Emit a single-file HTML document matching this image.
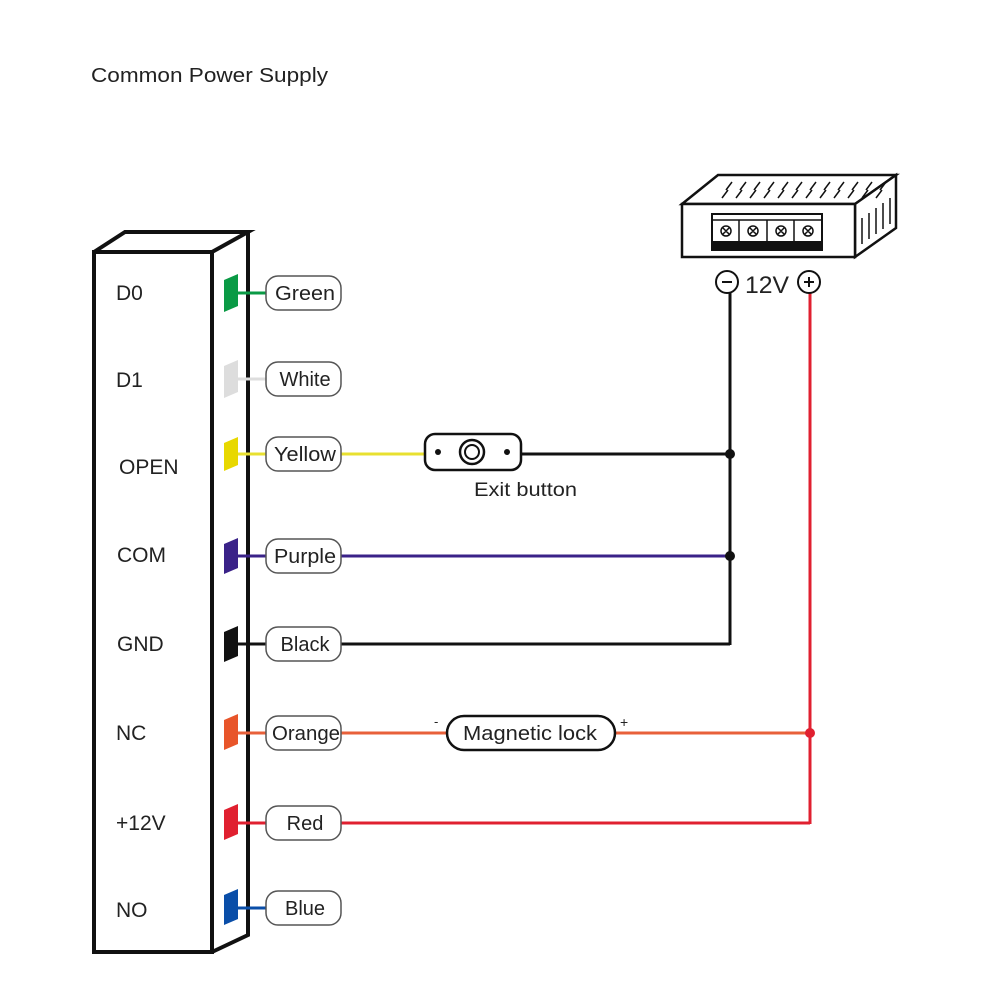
<!DOCTYPE html>
<html><head><meta charset="utf-8"><style>html,body{margin:0;padding:0;background:#fff}svg{display:block}text{font-family:"Liberation Sans",sans-serif;fill:#222}</style></head><body>
<svg width="1000" height="1000" viewBox="0 0 1000 1000" xmlns="http://www.w3.org/2000/svg">
<text x="91" y="82" font-size="20" textLength="237" lengthAdjust="spacingAndGlyphs">Common Power Supply</text>
<g stroke="#111" stroke-width="4" fill="none" stroke-linejoin="miter">
<path d="M94 252 L94 952 L212 952 L212 252 Z"/>
<path d="M94 252 L125 232 L248 232 L212 252"/>
<path d="M248 232 L248 935 L212 952"/>
</g>
<g font-size="21">
<text x="116" y="300">D0</text>
<text x="116" y="387">D1</text>
<text x="119" y="474">OPEN</text>
<text x="117" y="562">COM</text>
<text x="117" y="651">GND</text>
<text x="116" y="740">NC</text>
<text x="116" y="830">+12V</text>
<text x="116" y="917">NO</text>
</g>
<g>
<path d="M224 280 L238 274 L238 306 L224 312Z" fill="#0a9a45"/>
<path d="M224 366 L238 360 L238 392 L224 398Z" fill="#ddd"/>
<path d="M224 443 L238 437 L238 465 L224 471Z" fill="#e8d800"/>
<path d="M224 544 L238 538 L238 568 L224 574Z" fill="#3a2288"/>
<path d="M224 632 L238 626 L238 656 L224 662Z" fill="#111"/>
<path d="M224 720 L238 714 L238 744 L224 750Z" fill="#e8552a"/>
<path d="M224 810 L238 804 L238 834 L224 840Z" fill="#e02030"/>
<path d="M224 895 L238 889 L238 919 L224 925Z" fill="#0a4ea8"/>
</g>
<g stroke-width="3" fill="none">
<line x1="238" y1="293" x2="266" y2="293" stroke="#0a9a45"/>
<line x1="238" y1="379" x2="266" y2="379" stroke="#ddd"/>
<line x1="238" y1="454" x2="425" y2="454" stroke="#e8e030"/>
<line x1="238" y1="556" x2="730" y2="556" stroke="#3a2288"/>
<line x1="238" y1="644" x2="730" y2="644" stroke="#111"/>
<line x1="238" y1="733" x2="447" y2="733" stroke="#e8603a"/>
<line x1="615" y1="733" x2="810" y2="733" stroke="#e8603a"/>
<line x1="238" y1="823" x2="810" y2="823" stroke="#e02030"/>
<line x1="238" y1="908" x2="266" y2="908" stroke="#0a4ea8"/>
<line x1="521" y1="454" x2="730" y2="454" stroke="#111"/>
<line x1="730" y1="292" x2="730" y2="645" stroke="#111"/>
<line x1="810" y1="292" x2="810" y2="824" stroke="#e02030"/>
</g>
<circle cx="730" cy="454" r="5" fill="#111"/>
<circle cx="730" cy="556" r="5" fill="#111"/>
<circle cx="810" cy="733" r="5" fill="#e02030"/>
<g fill="#fff" stroke="#555" stroke-width="1.5">
<rect x="266" y="276" width="75" height="34" rx="12"/>
<rect x="266" y="362" width="75" height="34" rx="12"/>
<rect x="266" y="437" width="75" height="34" rx="12"/>
<rect x="266" y="539" width="75" height="34" rx="12"/>
<rect x="266" y="627" width="75" height="34" rx="12"/>
<rect x="266" y="716" width="75" height="34" rx="12"/>
<rect x="266" y="806" width="75" height="34" rx="12"/>
<rect x="266" y="891" width="75" height="34" rx="12"/>
</g>
<g font-size="20" text-anchor="middle">
<text x="305" y="300" textLength="60" lengthAdjust="spacingAndGlyphs">Green</text>
<text x="305" y="386">White</text>
<text x="305" y="461" textLength="62" lengthAdjust="spacingAndGlyphs">Yellow</text>
<text x="305" y="563" textLength="62" lengthAdjust="spacingAndGlyphs">Purple</text>
<text x="305" y="651">Black</text>
<text x="306" y="740" textLength="68" lengthAdjust="spacingAndGlyphs">Orange</text>
<text x="305" y="830">Red</text>
<text x="305" y="915">Blue</text>
</g>
<rect x="425" y="434" width="96" height="36" rx="10" fill="#fff" stroke="#111" stroke-width="2.5"/>
<circle cx="438" cy="452" r="3" fill="#111"/>
<circle cx="507" cy="452" r="3" fill="#111"/>
<circle cx="472" cy="452" r="12" fill="none" stroke="#111" stroke-width="2.5"/>
<circle cx="472" cy="452" r="7" fill="none" stroke="#111" stroke-width="2"/>
<text x="474" y="496" font-size="19" textLength="103" lengthAdjust="spacingAndGlyphs">Exit button</text>
<rect x="447" y="716" width="168" height="34" rx="17" fill="#fff" stroke="#111" stroke-width="2.5"/>
<text x="463" y="740" font-size="20" textLength="134" lengthAdjust="spacingAndGlyphs">Magnetic lock</text>
<text x="434" y="726" font-size="13">-</text>
<text x="620" y="727" font-size="14">+</text>
<g stroke="#111" stroke-width="2.5" fill="#fff">
<path d="M682 204 L718 175 L896 175 L855 204 Z"/>
<path d="M855 204 L896 175 L896 228 L855 257 Z"/>
<rect x="682" y="204" width="173" height="53"/>
</g>
<g stroke="#111" stroke-width="1.5">
<path d="M726 190l6-8M740 190l6-8M754 190l6-8M768 190l6-8M782 190l6-8M796 190l6-8M810 190l6-8M824 190l6-8M838 190l6-8M852 190l6-8M866 190l6-8M880 190l6-8"/>
<path d="M722 198l6-8M736 198l6-8M750 198l6-8M764 198l6-8M778 198l6-8M792 198l6-8M806 198l6-8M820 198l6-8M834 198l6-8M848 198l6-8M862 198l6-8M876 198l6-8"/>
<path d="M862 218v26M869 213v26M876 208v26M883 203v26M890 198v26"/>
</g>
<rect x="712" y="214" width="110" height="36" fill="#fff" stroke="#111" stroke-width="2"/>
<rect x="712" y="241" width="110" height="9" fill="#111"/>
<line x1="712" y1="220" x2="822" y2="220" stroke="#111" stroke-width="1.5"/>
<g stroke="#111" stroke-width="1.5" fill="none">
<line x1="739" y1="220" x2="739" y2="241"/><line x1="767" y1="220" x2="767" y2="241"/><line x1="794" y1="220" x2="794" y2="241"/>
<circle cx="726" cy="231" r="5"/><circle cx="753" cy="231" r="5"/><circle cx="781" cy="231" r="5"/><circle cx="808" cy="231" r="5"/>
<path d="M723 228l6 6M729 228l-6 6M750 228l6 6M756 228l-6 6M778 228l6 6M784 228l-6 6M805 228l6 6M811 228l-6 6"/>
</g>
<circle cx="727" cy="282" r="11" fill="#fff" stroke="#111" stroke-width="2"/>
<line x1="722" y1="282" x2="732" y2="282" stroke="#111" stroke-width="2"/>
<circle cx="809" cy="282" r="11" fill="#fff" stroke="#111" stroke-width="2"/>
<line x1="804" y1="282" x2="814" y2="282" stroke="#111" stroke-width="2"/>
<line x1="809" y1="277" x2="809" y2="287" stroke="#111" stroke-width="2"/>
<text x="767" y="293" font-size="24" text-anchor="middle" textLength="44" lengthAdjust="spacingAndGlyphs">12V</text>
</svg>
</body></html>
